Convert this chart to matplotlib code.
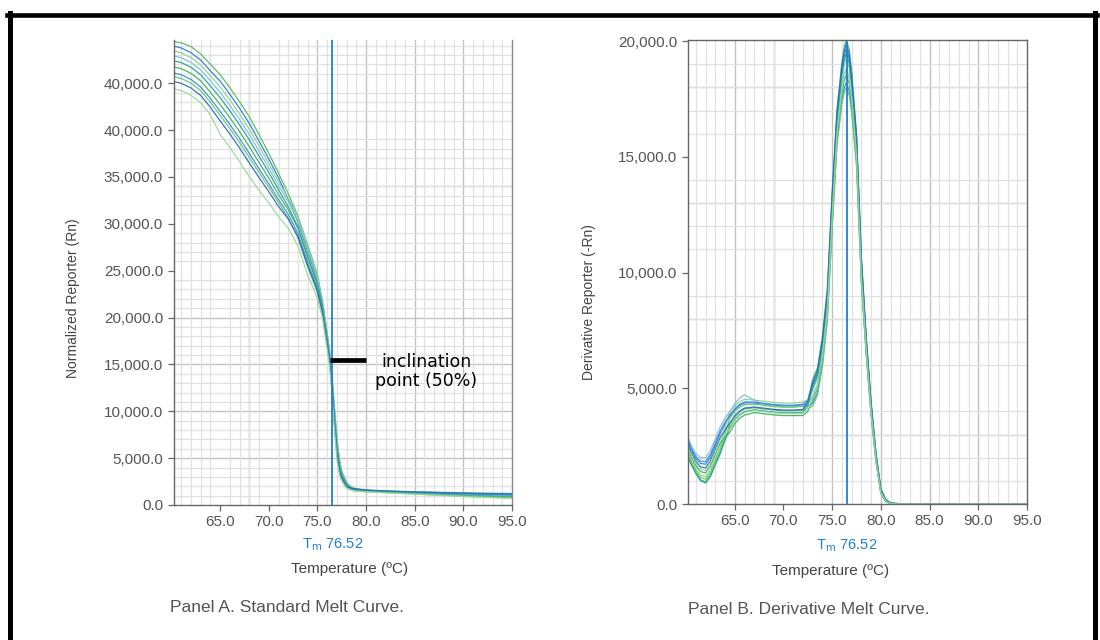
import matplotlib
matplotlib.use("Agg")
import matplotlib.pyplot as plt
from matplotlib.lines import Line2D
import matplotlib.transforms as mtransforms

plt.rcParams['font.family'] = ['Liberation Sans', 'DejaVu Sans']

# ---------------- data: Panel A (standard melt curve) ----------------
temp_a = [60.2, 61, 62, 63, 64, 65, 66, 67, 68, 69, 70, 71, 72, 73, 74, 74.5, 75, 75.5,
          76, 76.25, 76.5, 76.75, 77, 77.25, 77.5, 78, 78.5, 79, 80, 82, 85, 88, 91, 95]

rn_a1 = [49450, 49300, 48900, 48100, 47000, 45900, 44500, 43000, 41400, 39500, 37500, 35400, 33200, 30800,
         27700, 26200, 24500, 21900, 18300, 16400, 13700, 10300, 7100, 4900, 3600, 2400, 1870, 1670, 1560,
         1460, 1350, 1260, 1180, 1090]
rn_a2 = [48950, 48750, 48250, 47450, 46300, 45200, 43800, 42300, 40700, 38800, 36900, 34900, 32600, 30150,
         27050, 25550, 23950, 21500, 17950, 16050, 13300, 9800, 6600, 4550, 3400, 2275, 1780, 1590, 1500,
         1400, 1270, 1160, 1050, 940]
rn_a3 = [48430, 48230, 47730, 46930, 45785, 44595, 43195, 41695, 40095, 38285, 36420, 34455, 32724, 30660,
         27560, 26000, 24340, 21800, 18220, 16320, 13600, 10160, 6960, 4820, 3580, 2380, 1910, 1740, 1616,
         1516, 1420, 1360, 1300, 1240]
rn_a4 = [47910, 47710, 47210, 46410, 45245, 44015, 42615, 41115, 39515, 37745, 35940, 34035, 32364, 30320,
         27220, 25700, 24080, 21600, 18040, 16140, 13400, 9920, 6720, 4640, 3460, 2310, 1810, 1620, 1520,
         1420, 1300, 1200, 1100, 1000]
rn_a5 = [47390, 47190, 46690, 45890, 44705, 43435, 42035, 40535, 38935, 37205, 35460, 33615, 31824, 29640,
         26540, 25100, 23560, 21200, 17680, 15780, 13000, 9440, 6240, 4280, 3220, 2170, 1820, 1695, 1580,
         1480, 1375, 1300, 1225, 1150]
rn_a6 = [46740, 46540, 46040, 45240, 44030, 42710, 41310, 39810, 38210, 36530, 34860, 33090, 31500, 29470,
         26370, 24950, 23430, 21100, 17590, 15690, 12900, 9320, 6120, 4190, 3160, 2135, 1710, 1545, 1460,
         1360, 1225, 1100, 975, 850]
rn_a7 = [46090, 45890, 45390, 44590, 43355, 41985, 40585, 39085, 37485, 35855, 34260, 32565, 30996, 28960,
         25860, 24500, 23040, 20800, 17320, 15420, 12600, 8960, 5760, 3920, 2980, 2030, 1750, 1650, 1544,
         1444, 1330, 1240, 1150, 1060]
rn_a8 = [45700, 45500, 45000, 44200, 42950, 41550, 40150, 38650, 37050, 35450, 33900, 32250, 30600, 28450,
         25350, 24050, 22650, 20500, 17050, 15150, 12300, 8600, 5400, 3650, 2800, 1925, 1620, 1500, 1424,
         1324, 1180, 1040, 900, 760]
rn_a9 = [45180, 44980, 44480, 43680, 42410, 40970, 39570, 38070, 36470, 34910, 33420, 31830, 30510, 28620,
         25520, 24200, 22780, 20600, 17140, 15240, 12400, 8720, 5520, 3740, 2860, 1960, 1770, 1710, 1592,
         1492, 1390, 1320, 1250, 1180]
rn_a10 = [44400, 44200, 43700, 42900, 41600, 39520, 38120, 36620, 35020, 33560, 32220, 30780, 29520, 27600,
          24500, 23300, 22000, 20000, 16600, 14700, 11800, 8000, 4800, 3200, 2500, 1750, 1550, 1470, 1400,
          1300, 1150, 1000, 850, 700]

# ---------------- data: Panel B (derivative melt curve) ----------------
temp_b = [60.2, 60.5, 61, 61.5, 62, 62.5, 63, 63.5, 64, 64.5, 65, 65.5, 66, 67, 68, 69, 70, 71, 72, 72.5,
          73, 73.5, 74, 74.5, 75, 75.5, 76, 76.25, 76.45, 76.75, 77, 77.5, 78, 78.5, 79, 79.5, 80, 80.5,
          81, 82, 85, 90, 95]

drn_b1 = [2060, 1770, 1360, 1050, 960, 1250, 1740, 2230, 2860, 3450, 3770, 3980, 4110, 4160, 4110, 4060,
          4030, 4030, 4050, 4440, 5380, 5900, 7250, 9300, 13500, 17100, 19100, 19800, 20050, 19650, 18700,
          16000, 10700, 7200, 4400, 2200, 650, 200, 40, 13, 8, 8, 8]
drn_b2 = [2665, 2360, 1965, 1750, 1720, 2030, 2535, 3040, 3452, 3800, 4072, 4260, 4372, 4370, 4320, 4270,
          4240, 4240, 4282, 4500, 5145, 5660, 6990, 9020, 13180, 16780, 18740, 19400, 19680, 19250, 18340,
          15720, 10460, 7040, 4280, 2120, 610, 180, 34, 11, 7, 7, 7]
drn_b3 = [2235, 1940, 1535, 1250, 1180, 1470, 1965, 2460, 3284, 4000, 4244, 4420, 4524, 4490, 4440, 4390,
          4360, 4360, 4414, 4500, 4915, 5420, 6730, 8740, 12860, 16460, 18380, 19000, 19260, 18850, 17980,
          15440, 10220, 6880, 4160, 2040, 570, 160, 28, 9, 6, 6, 6]
drn_b4 = [2880, 2570, 2180, 2000, 1990, 2310, 2820, 3330, 3704, 4000, 4330, 4580, 4714, 4490, 4290, 4240,
          4210, 4210, 4249, 4320, 4685, 5180, 6470, 8460, 12540, 16140, 18020, 18600, 18840, 18450, 17620,
          15160, 9980, 6720, 4040, 1960, 530, 140, 22, 7, 4, 4, 4]
drn_b5 = [2020, 1730, 1320, 1000, 910, 1190, 1680, 2170, 2752, 3300, 3642, 3860, 3992, 4070, 4020, 3970,
          3940, 3940, 3952, 4260, 5030, 5540, 6860, 8880, 13020, 16620, 18560, 19200, 19470, 19050, 18160,
          15580, 10340, 6960, 4220, 2080, 590, 170, 31, 10, 6, 6, 6]
drn_b6 = [2364, 2066, 1664, 1400, 1342, 1638, 2136, 2634, 2864, 3100, 3470, 3700, 3840, 3950, 3900, 3850,
          3820, 3820, 3820, 4000, 4512, 5000, 6275, 8250, 12300, 15900, 17750, 18300, 18525, 18150, 17350,
          14950, 9800, 6600, 3950, 1900, 500, 125, 18, 6, 4, 4, 4]
drn_b7 = [2751, 2444, 2051, 1850, 1828, 2142, 2649, 3156, 3536, 3850, 4115, 4300, 4410, 4400, 4350, 4300,
          4270, 4270, 4315, 4240, 4340, 4820, 6080, 8040, 12060, 15660, 17480, 18000, 18210, 17850, 17080,
          14740, 9620, 6480, 3860, 1840, 470, 110, 13, 4, 3, 3, 3]
drn_b8 = [2149, 1856, 1449, 1150, 1072, 1358, 1851, 2344, 3060, 3700, 3986, 4180, 4296, 4310, 4260, 4210,
          4180, 4180, 4216, 4140, 4225, 4700, 5950, 7900, 11900, 15500, 17300, 17800, 18000, 17650, 16900,
          14600, 9500, 6400, 3800, 1800, 450, 100, 10, 3, 2, 2, 2]
drn_b9 = [2536, 2234, 1836, 1600, 1558, 1862, 2364, 2866, 3200, 3500, 3814, 4020, 4144, 4190, 4140, 4090,
          4060, 4060, 4084, 4420, 5260, 5780, 7120, 9160, 13340, 16940, 18920, 19600, 19890, 19450, 18520,
          15860, 10580, 7120, 4340, 2160, 630, 190, 37, 12, 7, 7, 7]
drn_b10 = [2450, 2150, 1750, 1500, 1450, 1750, 2250, 2750, 3004, 3250, 3599, 3820, 3954, 4040, 3990, 3940,
           3910, 3910, 3919, 4100, 4628, 5120, 6405, 8390, 12460, 16060, 17930, 18500, 18735, 18350, 17530,
           15090, 9920, 6680, 4010, 1940, 520, 135, 20, 7, 4, 4, 4]

# ---------------- labels ----------------
tm_value = 76.52
tm_label = "T$_{\\mathrm{m}}$ 76.52"
x_ticks = [65, 70, 75, 80, 85, 90, 95]
x_tick_labels = ["65.0", "70.0", "75.0", "80.0", "85.0", "90.0", "95.0"]
ya_ticks = [0, 5000, 10000, 15000, 20000, 25000, 30000, 35000, 40000, 45000]
ya_tick_labels = ["0.0", "5,000.0", "10,000.0", "15,000.0", "20,000.0", "25,000.0", "30,000.0",
                  "35,000.0", "40,000.0", "40,000.0"]
yb_ticks = [0, 5000, 10000, 15000, 20000]
yb_tick_labels = ["0.0", "5,000.0", "10,000.0", "15,000.0", "20,000.0"]
annot_x = [76.28, 79.99]
annot_y = 15460
annot_text_xy = (86.16, 14230)
annot_text = "inclination\npoint (50%)"

curve_colors = ['#55b964', '#2f7fcc', '#8fd08f', '#7dbde6', '#1fa39a',
                '#47ae5e', '#3b90d8', '#6cc46e', '#2a6fbf', '#9ad89c']

series_a = [rn_a1, rn_a2, rn_a3, rn_a4, rn_a5, rn_a6, rn_a7, rn_a8, rn_a9, rn_a10]
series_b = [drn_b1, drn_b2, drn_b3, drn_b4, drn_b5, drn_b6, drn_b7, drn_b8, drn_b9, drn_b10]

# ---------------- figure ----------------
W, H = 1100, 640
fig = plt.figure(figsize=(11, 6.4), dpi=100)

axA = fig.add_axes([173.5 / W, 1 - 505 / H, 338.5 / W, 465 / H])
axB = fig.add_axes([688 / W, 1 - 504 / H, 339 / W, 464.5 / H])

TEXT = '#555555'
MINOR = '#e1e1e1'
MAJOR = '#c2c2c2'


def style_axes(ax, ylim, ymajor_pos, yminor_step, xmajor_pos, yticks, yticklabels):
    ax.set_xlim(60.2, 95.0)
    ax.set_ylim(*ylim)
    ax.set_xticks(x_ticks)
    ax.set_xticklabels(x_tick_labels)
    ax.set_yticks(yticks)
    ax.set_yticklabels(yticklabels)
    ax.set_xticks([t for t in range(61, 96)], minor=True)
    ax.set_yticks([v for v in range(0, int(ylim[1]) + 1, yminor_step)], minor=True)
    ax.grid(which='minor', color=MINOR, lw=0.9, zorder=0)
    ax.grid(which='major', visible=False)
    for xp in xmajor_pos:
        ax.axvline(xp, color=MAJOR, lw=1.0, zorder=0.5)
    for yp in ymajor_pos:
        ax.axhline(yp, color=MAJOR, lw=1.0, zorder=0.5)
    ax.set_axisbelow(True)
    ax.tick_params(which='major', direction='out', length=4, width=0.9, color='#666666',
                   labelcolor=TEXT, labelsize=11, pad=3.5)
    ax.tick_params(which='minor', length=0)
    for s in ax.spines.values():
        s.set_color('#666666')
        s.set_linewidth(1.0)


style_axes(axA, (0, 49600), [5000, 10000, 15000, 20000, 34000], 1000,
           [68, 75, 80, 85, 90], ya_ticks, ya_tick_labels)
axA.spines['top'].set_visible(False)
axA.spines['right'].set_color('#888888')

style_axes(axB, (0, 20070), [3000, 8000, 13000, 18000], 1000,
           [65, 69, 75, 80, 85, 90], yb_ticks, yb_tick_labels)

for vals, c in zip(series_a, curve_colors):
    axA.plot(temp_a, vals, color=c, lw=0.9, alpha=0.95, zorder=2)
for vals, c in zip(series_b, curve_colors):
    axB.plot(temp_b, vals, color=c, lw=0.9, alpha=0.95, zorder=2)

TM_BLUE = '#1f7fd3'
for ax, yoff in ((axA, -0.086), (axB, -0.0904)):
    ax.axvline(tm_value, color=TM_BLUE, lw=1.3, zorder=3)
    tr = mtransforms.blended_transform_factory(ax.transData, ax.transAxes)
    ax.text(tm_value, yoff, tm_label, transform=tr, ha='center', va='center',
            color=TM_BLUE, fontsize=10.5)

# annotation
axA.plot(annot_x, [annot_y, annot_y], color='black', lw=3.4, solid_capstyle='butt', zorder=5)
axA.text(annot_text_xy[0], annot_text_xy[1], annot_text, ha='center', va='center',
         multialignment='center', fontsize=12.5, family=['DejaVu Sans'], color='black',
         linespacing=1.05, zorder=5)

# axis labels
fig.text(349.5 / W, 1 - 569 / H, "Temperature (ºC)", ha='center', va='center',
         fontsize=11, color='#444444')
fig.text(831 / W, 1 - 571 / H, "Temperature (ºC)", ha='center', va='center',
         fontsize=11, color='#444444')
fig.text(73.5 / W, 1 - 298 / H, "Normalized Reporter (Rn)", rotation=90, ha='center',
         va='center', fontsize=10, color='#444444')
fig.text(589 / W, 1 - 302 / H, "Derivative Reporter (-Rn)", rotation=90, ha='center',
         va='center', fontsize=10, color='#444444')

# panel captions
fig.text(170 / W, 1 - 608 / H, "Panel A. Standard Melt Curve.", ha='left', va='center',
         fontsize=12.5, color=TEXT)
fig.text(688 / W, 1 - 610 / H, "Panel B. Derivative Melt Curve.", ha='left', va='center',
         fontsize=12.5, color=TEXT)

# black frame
fig.add_artist(Line2D([7 / W, 1097 / W], [1 - 15 / H, 1 - 15 / H], color='black', lw=3.3,
                      transform=fig.transFigure))
fig.add_artist(Line2D([9.5 / W, 9.5 / W], [0, 1 - 13 / H], color='black', lw=3.6,
                      transform=fig.transFigure))
fig.add_artist(Line2D([1094.5 / W, 1094.5 / W], [0, 1 - 13 / H], color='black', lw=3.6,
                      transform=fig.transFigure))

fig.savefig('out.png', dpi=100)
